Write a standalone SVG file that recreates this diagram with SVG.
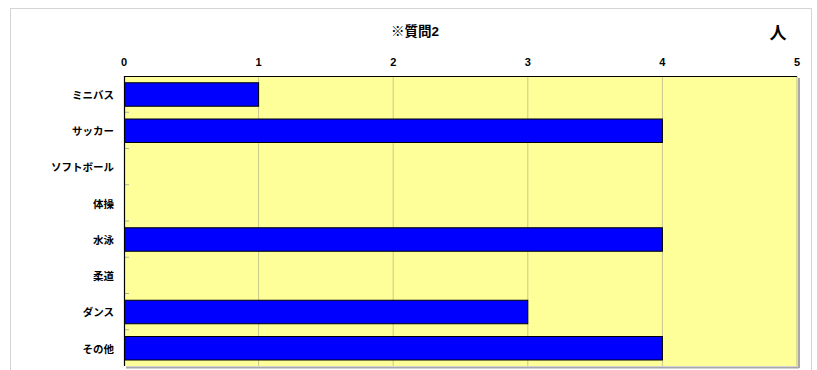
<svg xmlns="http://www.w3.org/2000/svg" width="817" height="370" viewBox="0 0 817 370">
<style>
.lab{font-family:"Liberation Sans","Noto Sans CJK JP",sans-serif;font-weight:bold;fill:#000}
.cat{font-size:10.5px;text-anchor:end}
.ax{font-size:11px;text-anchor:middle}
.bar{fill:#0000ff;stroke:#000;stroke-width:1}
.grid{stroke:#c8c88c;stroke-width:1}
.tick{stroke:#b0b0a0;stroke-width:1}
</style>
<rect x="0" y="0" width="817" height="370" fill="#fff"/>
<rect x="10.5" y="8.5" width="801" height="380" fill="#fff" stroke="#d4d4d4"/>
<g id="title"><text class="lab" x="415" y="36" font-size="13.5" text-anchor="middle">※質問2</text></g>
<g id="unit"><text x="778" y="39" font-size="17" text-anchor="middle" font-family="Noto Sans CJK JP,sans-serif" font-weight="bold">人</text></g>
<g id="plot">
<rect x="124" y="76" width="673" height="290" fill="#ffff99"/>
<line x1="799" y1="78" x2="799" y2="368" stroke="#a8a8a8" stroke-width="2"/>
<line x1="126" y1="367.5" x2="799" y2="367.5" stroke="#a8a8a8" stroke-width="2"/>
<line x1="797" y1="76" x2="797" y2="366" stroke="#b8b890" stroke-width="1"/>
</g>
<g id="gridlines">
<line class="grid" x1="258.6" y1="76" x2="258.6" y2="366"/>
<line class="grid" x1="393.2" y1="76" x2="393.2" y2="366"/>
<line class="grid" x1="527.8" y1="76" x2="527.8" y2="366"/>
<line class="grid" x1="662.4" y1="76" x2="662.4" y2="366"/>
</g>
<g id="ticks">
<line class="tick" x1="124" y1="112.25" x2="129" y2="112.25"/>
<line class="tick" x1="124" y1="148.5" x2="129" y2="148.5"/>
<line class="tick" x1="124" y1="184.75" x2="129" y2="184.75"/>
<line class="tick" x1="124" y1="221" x2="129" y2="221"/>
<line class="tick" x1="124" y1="257.25" x2="129" y2="257.25"/>
<line class="tick" x1="124" y1="293.5" x2="129" y2="293.5"/>
<line class="tick" x1="124" y1="329.75" x2="129" y2="329.75"/>
</g>
<g id="bars">
<rect class="bar" x="124.5" y="82.75" width="134.1" height="23.5"/>
<rect class="bar" x="124.5" y="119" width="537.9" height="23.5"/>
<rect class="bar" x="124.5" y="227.75" width="537.9" height="23.5"/>
<rect class="bar" x="124.5" y="300.25" width="403.3" height="23.5"/>
<rect class="bar" x="124.5" y="336.5" width="537.9" height="23.5"/>
</g>
<g id="axes">
<line x1="124" y1="76.5" x2="797" y2="76.5" stroke="#000" stroke-width="1.2"/>
<line x1="124.5" y1="76" x2="124.5" y2="366" stroke="#000" stroke-width="1.2"/>
</g>
<g id="xlabels">
<text class="lab ax" x="124" y="66">0</text>
<text class="lab ax" x="258.6" y="66">1</text>
<text class="lab ax" x="393.2" y="66">2</text>
<text class="lab ax" x="527.8" y="66">3</text>
<text class="lab ax" x="662.4" y="66">4</text>
<text class="lab ax" x="797" y="66">5</text>
</g>
<g id="ylabels">
<text class="lab cat" x="114" y="98.5">ミニバス</text>
<text class="lab cat" x="114" y="135">サッカー</text>
<text class="lab cat" x="114" y="171">ソフトボール</text>
<text class="lab cat" x="114" y="207.5">体操</text>
<text class="lab cat" x="114" y="243.5">水泳</text>
<text class="lab cat" x="114" y="280">柔道</text>
<text class="lab cat" x="114" y="316">ダンス</text>
<text class="lab cat" x="114" y="352.5">その他</text>
</g>
</svg>
